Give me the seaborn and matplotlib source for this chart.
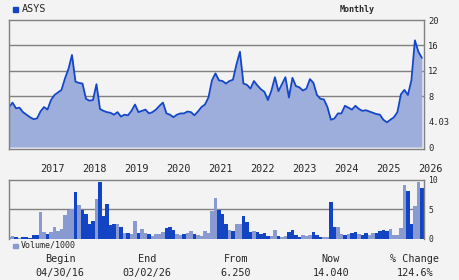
import numpy as np
import pandas as pd
import matplotlib
matplotlib.use("Agg")
import matplotlib.pyplot as plt
import seaborn as sns
from matplotlib.patches import Rectangle

# ---------------- data ----------------
ticker = "ASYS"
period = "Monthly"
start_year, start_month = 2016, 4          # first bar = Apr 2016
year_labels = ["2017", "2018", "2019", "2020", "2021", "2022", "2023", "2024", "2025", "2026"]

close = [6.25, 7.0, 6.1, 6.2, 5.5, 5.1, 4.7, 4.4, 4.5, 5.6,
         6.3, 5.9, 7.4, 8.2, 8.6, 9.0, 10.8, 12.3, 14.5, 10.3,
         10.1, 10.0, 7.6, 7.3, 7.4, 9.9, 6.0, 5.7, 5.5, 5.4,
         5.1, 5.5, 4.8, 5.1, 5.0, 5.7, 6.7, 5.5, 5.7, 5.9,
         5.3, 5.5, 5.9, 6.5, 7.0, 5.3, 5.1, 4.7, 5.1, 5.3,
         5.3, 5.6, 5.5, 5.0, 5.6, 6.3, 6.7, 7.8, 10.5, 11.6,
         10.5, 10.4, 10.0, 10.4, 10.6, 13.0, 15.0, 10.0, 9.8, 9.2,
         10.4, 9.7, 9.1, 8.7, 7.4, 8.9, 11.0, 8.8, 9.9, 11.0,
         7.8, 10.9, 9.6, 9.4, 8.9, 9.2, 10.7, 10.1, 8.2, 7.6,
         7.5, 6.3, 4.3, 4.5, 5.3, 5.3, 6.5, 6.2, 5.9, 6.5,
         6.0, 5.7, 5.8, 5.6, 5.4, 5.2, 5.1, 4.3, 3.9, 4.3,
         4.7, 5.5, 8.3, 9.0, 8.2, 10.5, 16.8, 15.0, 14.04]

volume = [0.3, 0.45, 0.3, 0.2, 0.3, 0.3, 0.2, 0.6, 0.6, 4.5,
          1.1, 0.8, 1.1, 2.0, 1.3, 1.6, 4.0, 4.8, 5.1, 7.9,
          5.7, 4.8, 4.2, 2.6, 3.0, 6.7, 9.55, 3.8, 5.8, 2.3,
          2.6, 2.5, 2.0, 1.0, 1.0, 0.8, 3.0, 1.0, 1.6, 1.0,
          0.8, 0.45, 0.8, 0.8, 1.1, 1.8, 2.0, 1.5, 0.8, 0.6,
          0.8, 1.0, 1.3, 0.8, 0.6, 0.45, 1.3, 1.0, 4.7, 6.9,
          4.8, 4.2, 2.5, 1.5, 1.3, 2.5, 2.5, 3.8, 2.8, 1.1,
          1.3, 1.1, 0.8, 1.0, 0.45, 0.45, 1.5, 0.45, 0.3, 0.45,
          1.1, 1.5, 0.6, 0.3, 0.6, 0.45, 0.6, 1.1, 0.6, 0.3,
          0.3, 0.3, 6.2, 2.0, 2.1, 0.8, 0.6, 0.8, 1.0, 1.1,
          0.8, 0.6, 1.0, 0.7, 1.0, 1.0, 1.3, 1.5, 1.3, 1.6,
          0.6, 0.6, 1.8, 9.0, 8.0, 2.5, 5.5, 9.55, 8.5]

vol_dir = ["L", "L", "D", "L", "D", "D", "D", "D", "D", "L",
           "L", "D", "L", "L", "L", "L", "L", "L", "L", "D",
           "L", "D", "D", "D", "D", "L", "D", "D", "D", "D",
           "D", "L", "D", "L", "D", "L", "L", "D", "L", "L",
           "D", "L", "L", "L", "L", "D", "D", "D", "L", "L",
           "D", "L", "L", "D", "L", "L", "L", "L", "L", "L",
           "D", "D", "D", "L", "D", "L", "L", "D", "D", "D",
           "L", "D", "D", "D", "D", "L", "L", "D", "L", "L",
           "D", "D", "D", "D", "L", "L", "L", "D", "D", "D",
           "L", "L", "D", "D", "L", "L", "D", "L", "D", "D",
           "L", "D", "D", "L", "L", "D", "D", "D", "D", "L",
           "L", "L", "L", "L", "D", "D", "L", "L", "D"]

price_ticks = [0, 4.03, 8, 12, 16, 20]
price_tick_labels = ["0", "4.03", "8", "12", "16", "20"]
price_grid = [8, 12, 16]
vol_ticks = [0, 5, 10]
vol_tick_labels = ["0", "5", "10"]

summary_heads = ["Begin", "End", "From", "Now", "% Change"]
summary_vals = ["04/30/16", "03/02/26", "6.250", "14.040", "124.6%"]

# ---------------- style ----------------
BG = "#f3f3f3"
FILL = "#9daedc"
LINE = "#1446c8"
DARK = "#1244c4"
LIGHT = "#889ad0"
GRID = "#808080"
MONO = "DejaVu Sans Mono"

sns.set_style("white")
plt.rcParams["font.family"] = [MONO]

W, H = 460, 280
fig = plt.figure(figsize=(W / 100, H / 100), dpi=100, facecolor=BG)


def rect(l, t, r, b):
    return [l / W, 1 - b / H, (r - l) / W, (b - t) / H]


ax_p = fig.add_axes(rect(9, 20, 424, 149))
ax_v = fig.add_axes(rect(9, 179.5, 424, 239))

n = len(close)
idx = np.arange(n)
xmax = n - 0.4

# ---- price panel ----
dfp = pd.DataFrame({"m": idx, "close": close})
ax_p.set_facecolor(BG)
for v in price_grid:
    ax_p.axhline(v, color=GRID, lw=1.0, zorder=0.5)
ax_p.fill_between(dfp["m"], 0, dfp["close"], color=FILL, lw=0, zorder=1)
sns.lineplot(data=dfp, x="m", y="close", ax=ax_p, color=LINE, lw=1.3, zorder=2)
ax_p.set_xlim(0, xmax)
ax_p.set_ylim(-0.3, 20)
ax_p.set_xticks([])
ax_p.yaxis.tick_right()
ax_p.set_yticks(price_ticks)
ax_p.set_yticklabels(price_tick_labels)
ax_p.tick_params(axis="y", length=0, pad=3, labelsize=6.3)
ax_p.set_xlabel("")
ax_p.set_ylabel("")
for s in ax_p.spines.values():
    s.set_visible(True)
    s.set_color(GRID)
    s.set_linewidth(1.0)

# ---- volume panel ----
dfv = pd.DataFrame({"m": idx, "vol": volume, "dir": vol_dir})
ax_v.set_facecolor(BG)
ax_v.axhline(5, color=GRID, lw=1.0, zorder=0.5)
sns.barplot(data=dfv, x="m", y="vol", hue="dir",
            palette={"D": DARK, "L": LIGHT}, dodge=False, native_scale=True,
            width=1.0, saturation=1, legend=False, errorbar=None,
            linewidth=0, edgecolor="none", ax=ax_v, zorder=2)
ax_v.set_xlim(0, xmax)
ax_v.set_ylim(0, 10)
ax_v.yaxis.tick_right()
ax_v.set_yticks(vol_ticks)
ax_v.set_yticklabels(vol_tick_labels)
ax_v.tick_params(axis="y", length=0, pad=3, labelsize=5.8)
jan_pos = [(12 - start_month + 1) + 12 * k for k in range(len(year_labels))]
ax_v.xaxis.tick_top()
ax_v.set_xticks(jan_pos)
ax_v.set_xticklabels(year_labels, ha="left")
ax_v.tick_params(axis="x", length=0, pad=4, labelsize=7.3)
ax_v.set_xlabel("")
ax_v.set_ylabel("")
for k, s in ax_v.spines.items():
    s.set_color(GRID)
    s.set_linewidth(1.0)
    s.set_visible(k != "bottom")

# ---- legends / header ----
fig.patches.append(Rectangle((13 / W, 1 - 12 / H), 4.5 / W, 4.5 / H,
                             transform=fig.transFigure, color=DARK))
fig.text(22 / W, 1 - 9.5 / H, ticker, ha="left", va="center", fontsize=7.3)
fig.text(357 / W, 1 - 9.5 / H, period, ha="center", va="center", fontsize=6,
         fontweight="bold")
fig.patches.append(Rectangle((13 / W, 1 - 248 / H), 4.5 / W, 4.5 / H,
                             transform=fig.transFigure, color=LIGHT))
fig.text(21 / W, 1 - 245.5 / H, "Volume/1000", ha="left", va="center", fontsize=6)

cols = [60, 147, 236, 331, 415]
for cx, h, v in zip(cols, summary_heads, summary_vals):
    fig.text(cx / W, 1 - 259 / H, h, ha="center", va="center", fontsize=7.3)
    fig.text(cx / W, 1 - 273 / H, v, ha="center", va="center", fontsize=7.3)

fig.savefig("out.png", dpi=100, facecolor=BG)
